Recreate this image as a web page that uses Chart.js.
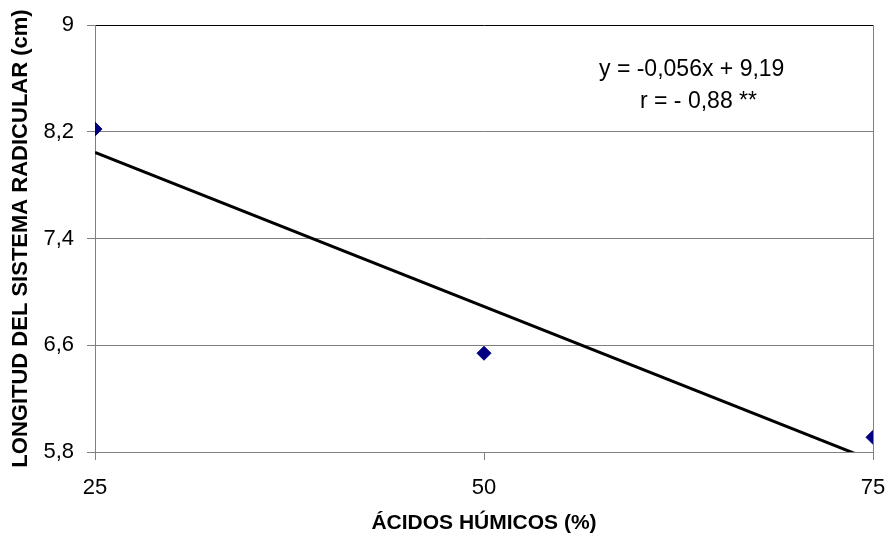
<!DOCTYPE html>
<html>
<head>
<meta charset="utf-8">
<script src="https://cdn.jsdelivr.net/npm/chart.js@4/dist/chart.umd.min.js"></script>
<style>
  html, body { margin: 0; padding: 0; background: #ffffff; }
  canvas { display: block; }
</style>
</head>
<body>
<canvas id="chart" width="888" height="545"></canvas>
<script>
// Humic acid dose (%) and measured root system length (cm)
const acidosHumicos = [25, 50, 75];
const longitudRaiz = [8.22, 6.54, 5.91];

// Axis ticks and their printed labels (decimal comma)
const xTicks = [25, 50, 75];
const yTicks = [5.8, 6.6, 7.4, 8.2, 9];
const yTickLabels = ['5,8', '6,6', '7,4', '8,2', '9'];

// Text shown on the chart
const xTitle = 'ÁCIDOS HÚMICOS (%)';
const yTitle = 'LONGITUD DEL SISTEMA RADICULAR (cm)';
const equationLines = ['y = -0,056x + 9,19', 'r = - 0,88 **'];

const FONT = '"Liberation Sans", Arial, sans-serif';
const GRID = '#808080';

// Ordinary least-squares trend through the measured points
function linearFit(xs, ys) {
  const n = xs.length;
  const mx = xs.reduce((a, b) => a + b, 0) / n;
  const my = ys.reduce((a, b) => a + b, 0) / n;
  let sxy = 0, sxx = 0;
  for (let i = 0; i < n; i++) {
    sxy += (xs[i] - mx) * (ys[i] - my);
    sxx += (xs[i] - mx) * (xs[i] - mx);
  }
  const slope = sxy / sxx;
  return { slope, intercept: my - slope * mx };
}

const fit = linearFit(acidosHumicos, longitudRaiz);
const xFirst = acidosHumicos[0];
const xLast = acidosHumicos[acidosHumicos.length - 1];
const trendPoints = [
  { x: xFirst, y: fit.intercept + fit.slope * xFirst },
  { x: xLast, y: fit.intercept + fit.slope * xLast }
];
const measuredPoints = acidosHumicos.map((x, i) => ({ x, y: longitudRaiz[i] }));

// Regression equation and correlation written in the upper right
const equationPlugin = {
  id: 'equationText',
  afterDatasetsDraw(chart) {
    const ctx = chart.ctx;
    ctx.save();
    ctx.fillStyle = '#000000';
    ctx.font = '23px ' + FONT;
    ctx.textAlign = 'left';
    ctx.textBaseline = 'alphabetic';
    ctx.fillText(equationLines[0], 599, 76);
    ctx.fillText(equationLines[1], 640, 108);
    ctx.restore();
  }
};

new Chart(document.getElementById('chart'), {
  type: 'scatter',
  data: {
    datasets: [
      {
        label: 'Tendencia',
        data: trendPoints,
        showLine: true,
        borderColor: '#000000',
        borderWidth: 3,
        pointRadius: 0,
        pointHoverRadius: 0,
        order: 2
      },
      {
        label: 'Longitud',
        data: measuredPoints,
        pointStyle: 'rectRot',
        pointRadius: 7,
        pointHoverRadius: 7,
        backgroundColor: '#000080',
        borderColor: '#000080',
        borderWidth: 1,
        order: 1
      }
    ]
  },
  options: {
    responsive: false,
    animation: false,
    events: [],
    layout: { padding: { top: 25, right: 15, left: 0, bottom: 0 } },
    plugins: {
      legend: { display: false },
      tooltip: { enabled: false }
    },
    scales: {
      x: {
        type: 'linear',
        min: xTicks[0],
        max: xTicks[xTicks.length - 1],
        afterBuildTicks(scale) { scale.ticks = xTicks.map(v => ({ value: v })); },
        afterFit(scale) {
          scale.height = 93;
          scale.paddingLeft = 0;
          scale.paddingRight = 0;
        },
        ticks: {
          color: '#000000',
          font: { family: FONT, size: 22 },
          padding: 15,
          maxRotation: 0,
          callback: v => String(v)
        },
        grid: {
          color: c => (c.tick && c.tick.value === xTicks[1]) ? 'rgba(0,0,0,0)' : GRID,
          tickColor: GRID,
          tickLength: 8,
          lineWidth: 1
        },
        border: { display: true, color: GRID, width: 1 },
        title: {
          display: true,
          text: xTitle,
          color: '#000000',
          font: { family: FONT, size: 21, weight: 'bold' },
          padding: { top: 9, bottom: 9 }
        }
      },
      y: {
        type: 'linear',
        min: yTicks[0],
        max: yTicks[yTicks.length - 1],
        afterBuildTicks(scale) { scale.ticks = yTicks.map(v => ({ value: v })); },
        afterFit(scale) {
          scale.width = 95;
          scale.paddingTop = 0;
          scale.paddingBottom = 0;
        },
        ticks: {
          color: '#000000',
          font: { family: FONT, size: 22 },
          padding: 13,
          callback: v => yTickLabels[yTicks.indexOf(v)]
        },
        grid: {
          color: c => (c.tick && c.tick.value === yTicks[yTicks.length - 1]) ? '#000000' : GRID,
          tickColor: GRID,
          tickLength: 8,
          lineWidth: 1
        },
        border: { display: true, color: GRID, width: 1 },
        title: {
          display: true,
          text: yTitle,
          color: '#000000',
          font: { family: FONT, size: 22, weight: 'bold' },
          padding: { top: 8, bottom: 8 }
        }
      }
    }
  },
  plugins: [equationPlugin]
});
</script>
</body>
</html>
